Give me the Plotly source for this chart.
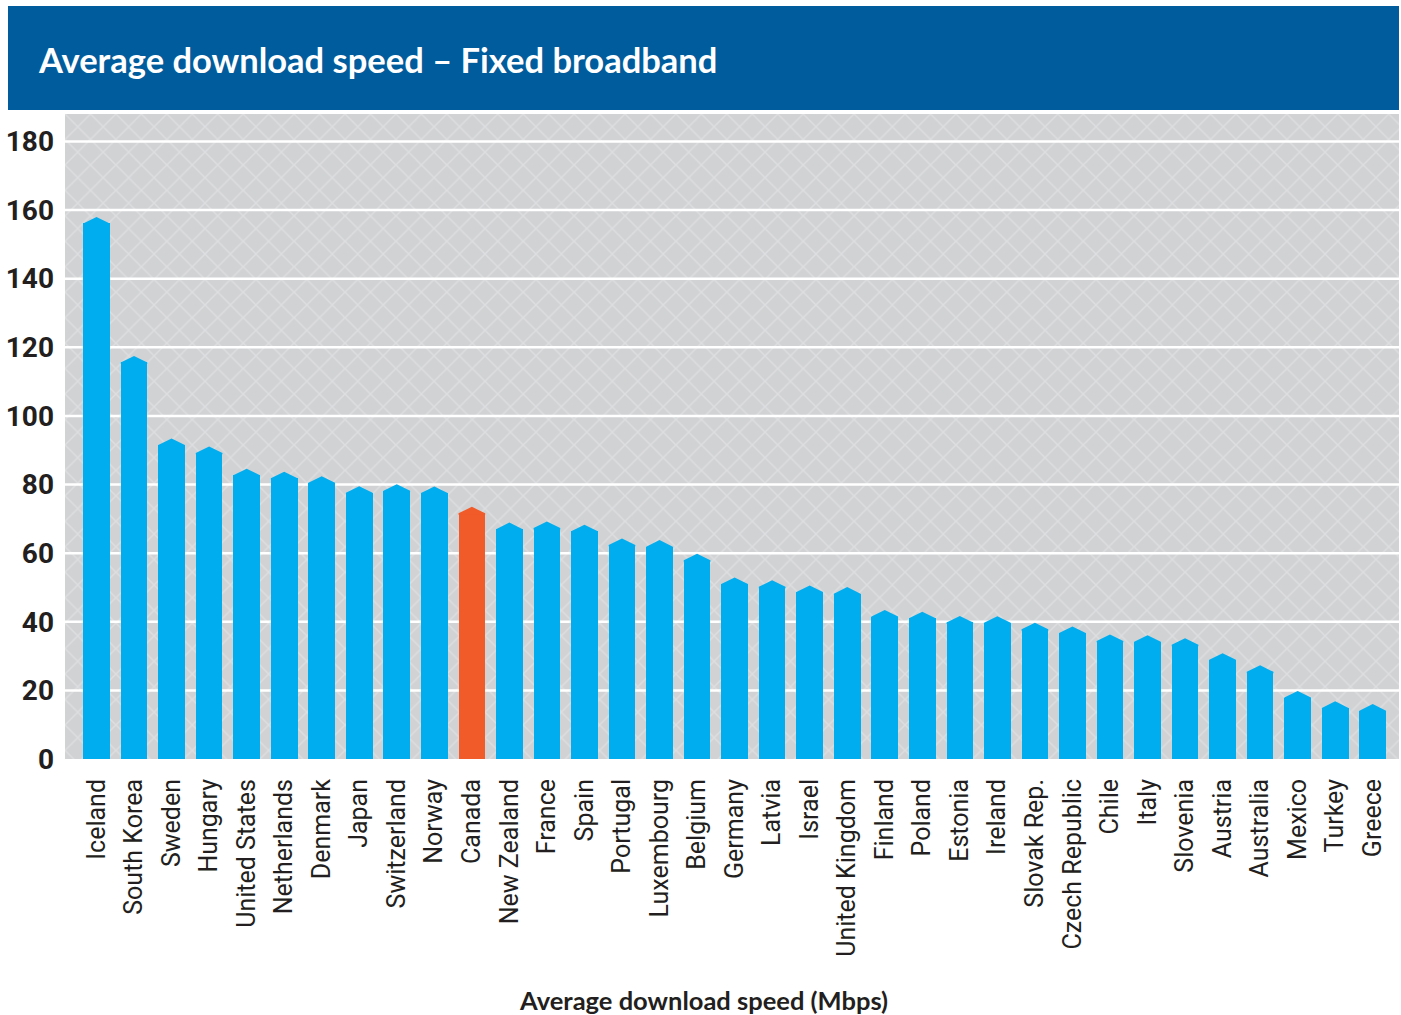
import plotly.graph_objects as go

countries = ["Iceland", "South Korea", "Sweden", "Hungary", "United States", "Netherlands",
             "Denmark", "Japan", "Switzerland", "Norway", "Canada", "New Zealand", "France",
             "Spain", "Portugal", "Luxembourg", "Belgium", "Germany", "Latvia", "Israel",
             "United Kingdom", "Finland", "Poland", "Estonia", "Ireland", "Slovak Rep.",
             "Czech Republic", "Chile", "Italy", "Slovenia", "Austria", "Australia",
             "Mexico", "Turkey", "Greece"]
speeds = [158.0, 117.5, 93.4, 91.1, 84.6, 83.7, 82.4, 79.5, 80.1, 79.4, 73.5, 68.9, 69.2,
          68.3, 64.3, 63.8, 59.8, 52.9, 52.1, 50.6, 50.1, 43.4, 42.9, 41.7, 41.6, 39.7,
          38.6, 36.3, 36.1, 35.2, 30.8, 27.3, 19.8, 16.8, 16.0]
highlight = "Canada"
y_ticks = [0, 20, 40, 60, 80, 100, 120, 140, 160, 180]

BLUE = "#00aeef"
ORANGE = "#f15a29"
GREY = "#d1d2d4"
DARK = "#231f20"
Y_MAX = 188
TIP = 1.9          # height of the pointed bar top, in data units
BAR_W = 0.71

n = len(countries)
xpos = list(range(n))
colors = [ORANGE if c == highlight else BLUE for c in countries]

fig = go.Figure()

# hatched background panel
fig.add_trace(go.Bar(
    x=[0.5], y=[Y_MAX], width=[1], xaxis="x", yaxis="y",
    marker=dict(color=GREY, line=dict(width=0),
                pattern=dict(shape="x", fgcolor="#e9e9ea", bgcolor=GREY,
                             size=18, solidity=0.16)),
    hoverinfo="skip", showlegend=False))

# white gridlines (above background, below bars)
gx, gy = [], []
for t in y_ticks[1:]:
    gx += [0, 1, None]
    gy += [t, t, None]
fig.add_trace(go.Scatter(x=gx, y=gy, xaxis="x2", yaxis="y", mode="lines",
                         line=dict(color="white", width=2.5),
                         hoverinfo="skip", showlegend=False))

# bars (body)
fig.add_trace(go.Bar(
    x=xpos, y=[v - TIP for v in speeds], width=BAR_W, xaxis="x3", yaxis="y",
    marker=dict(color=colors, line=dict(width=0)),
    hovertext=countries, showlegend=False))

# pointed tops
for col in (BLUE, ORANGE):
    tx, ty = [], []
    for i, (v, c) in enumerate(zip(speeds, colors)):
        if c != col:
            continue
        l, r = i - BAR_W / 2, i + BAR_W / 2
        s = v - TIP
        tx += [l, l, i, r, r, l, None]
        ty += [s - 0.4, s, v, s, s - 0.4, s - 0.4, None]
    fig.add_trace(go.Scatter(x=tx, y=ty, xaxis="x3", yaxis="y", mode="lines",
                             fill="toself", fillcolor=col, line=dict(width=0, color=col),
                             hoverinfo="skip", showlegend=False))

fig.update_layout(
    width=1401, height=1015,
    margin=dict(l=65, r=2, t=114, b=256),
    paper_bgcolor="white", plot_bgcolor="white",
    bargap=0, barmode="overlay",
    showlegend=False,
    xaxis=dict(range=[0, 1], visible=False, fixedrange=True),
    xaxis2=dict(range=[0, 1], visible=False, overlaying="x", anchor="y"),
    xaxis3=dict(range=[-0.839, 34.70], overlaying="x", anchor="y",
                tickmode="array", tickvals=xpos, ticktext=countries, tickangle=-90,
                showgrid=False, zeroline=False, showline=False, ticks="",
                ticklabelstandoff=14,
                tickfont=dict(family="Roboto", size=25, color=DARK)),
    yaxis=dict(range=[0, Y_MAX], tickmode="array", tickvals=y_ticks,
               showgrid=False, zeroline=False, showline=False, ticks="",
               ticklabelstandoff=10,
               tickfont=dict(family="Roboto", size=28, color=DARK, weight="bold")),
    shapes=[dict(type="rect", xref="paper", yref="paper",
                 x0=-57 / 1334, x1=1, y0=(759 - 110) / 645, y1=(759 - 6) / 645,
                 fillcolor="#005c9c", line=dict(width=0), layer="above")],
    annotations=[
        dict(text="Average download speed – Fixed broadband", xref="paper", yref="paper",
             x=(36 - 65) / 1334, y=(759 - 59) / 645, xanchor="left", yanchor="middle",
             showarrow=False, font=dict(family="Lato", size=34.5, color="white", weight="bold")),
        dict(text="Average download speed (Mbps)", xref="paper", yref="paper",
             x=(703 - 65) / 1334, y=(759 - 1000) / 645, xanchor="center", yanchor="middle",
             showarrow=False, font=dict(family="Lato", size=25.5, color=DARK, weight="bold")),
    ],
)

fig.write_html("out.html",
               config={"displayModeBar": False},
               post_script="document.body.style.margin='0px';"
                           "document.body.style.overflow='hidden';")
